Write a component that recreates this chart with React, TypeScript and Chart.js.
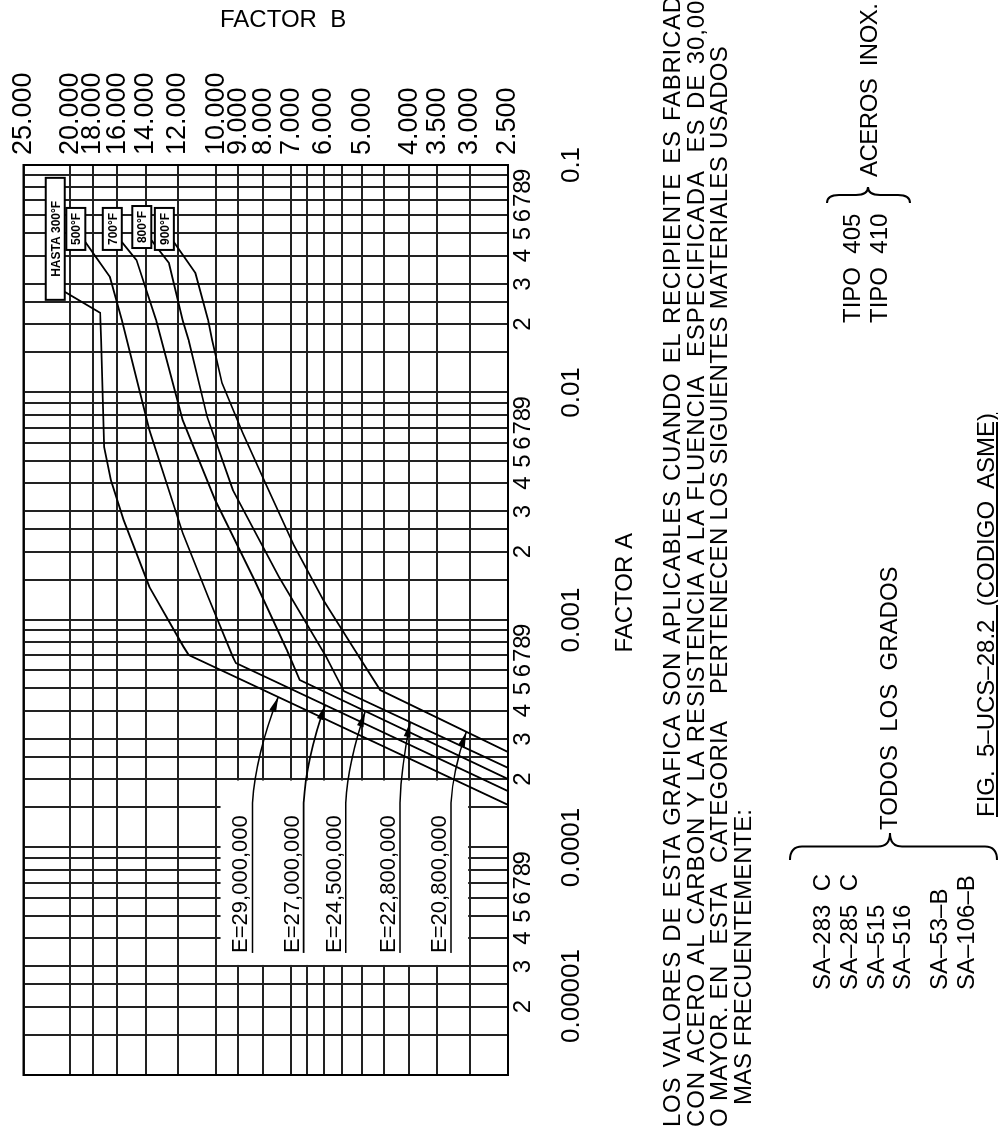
import React, { useEffect, useRef } from "react";
import { Chart, registerables } from "chart.js";

Chart.register(...registerables);

const FONT = '"Liberation Sans", Arial, sans-serif';

// ---------- Factor A (horizontal axis of the unrotated chart, log) ----------
const factorARange = [0.00001, 0.1];
const factorAGrid = [
  0.00001, 0.000015, 0.00002, 0.000025, 0.00003, 0.00004, 0.00005, 0.00006, 0.00007, 0.00008, 0.00009,
  0.0001, 0.00015, 0.0002, 0.00025, 0.0003, 0.0004, 0.0005, 0.0006, 0.0007, 0.0008, 0.0009,
  0.001, 0.0015, 0.002, 0.0025, 0.003, 0.004, 0.005, 0.006, 0.007, 0.008, 0.009,
  0.01, 0.015, 0.02, 0.025, 0.03, 0.04, 0.05, 0.06, 0.07, 0.08, 0.09,
  0.1,
];
const factorADigits = [
  "", "", "2", "", "3", "4", "5", "6", "7", "8", "9",
  "", "", "2", "", "3", "4", "5", "6", "7", "8", "9",
  "", "", "2", "", "3", "4", "5", "6", "7", "8", "9",
  "", "", "2", "", "3", "4", "5", "6", "7", "8", "9",
  "",
];
const factorADecades = [0.00001, 0.0001, 0.001, 0.01, 0.1];
const factorADecadeLabels = ["0.00001", "0.0001", "0.001", "0.01", "0.1"];

// ---------- Factor B (vertical axis of the unrotated chart, log) ----------
const factorBRange = [2500, 25000];
const factorBGrid = [2500, 3000, 3500, 4000, 4500, 5000, 5500, 6000, 6500, 7000, 8000, 9000, 10000, 12000, 14000, 16000, 18000, 20000, 25000];
const factorBLabels = ["2.500", "3.000", "3.500", "4.000", "", "5.000", "", "6.000", "", "7.000", "8.000", "9.000", "10.000", "12.000", "14.000", "16.000", "18.000", "20.000", "25.000"];

// ---------- Curves (Factor A, Factor B) ----------
const curve300A = [0.000154, 0.000702, 0.000761, 0.0014, 0.00275, 0.00412, 0.00576, 0.017, 0.0224, 0.0277];
const curve300B = [2500, 11400, 11680, 13750, 15530, 16500, 17050, 17290, 17370, 20550];
const curve500A = [0.000177, 0.000647, 0.000688, 0.00126, 0.00241, 0.00684, 0.0208, 0.0322, 0.0459];
const curve500B = [2500, 9115, 9245, 10390, 11730, 13750, 15670, 16575, 18635];
const curve700A = [0.0002, 0.000545, 0.000738, 0.0015, 0.00337, 0.00757, 0.0208, 0.0382, 0.0459];
const curve700B = [2500, 6730, 7150, 8343, 10055, 11730, 13305, 14610, 15670];
const curve800A = [0.000224, 0.000487, 0.000688, 0.001545, 0.00373, 0.0078, 0.017, 0.0208, 0.0371, 0.0468];
const curve800B = [2500, 5455, 5931, 7423, 9245, 10440, 11405, 11730, 12525, 13620];
const curve900A = [0.000263, 0.000492, 0.000738, 0.001225, 0.002136, 0.003922, 0.006637, 0.01101, 0.017, 0.0208, 0.0335, 0.0459];
const curve900B = [2500, 4588, 5180, 6013, 6920, 7888, 8820, 9733, 10198, 10392, 11040, 12235];
const temperatureLabels = ["HASTA 300°F", "500°F", "700°F", "800°F", "900°F"];

// ---------- Modulus call-outs ----------
const modulusLabels = ["E=29,000,000", "E=27,000,000", "E=24,500,000", "E=22,800,000", "E=20,800,000"];
const modulusTextA = [0.0000344, 0.0000344, 0.0000344, 0.0000344, 0.0000344];
const modulusLineB = [8420, 6603, 5405, 4178, 3277];
const modulusLeaderA = [0.000157, 0.000157, 0.000157, 0.000157, 0.000157];
const modulusTipA = [0.000459, 0.000423, 0.000394, 0.000356, 0.000322];
const modulusTipB = [7450, 5960, 4930, 3980, 3050];
const calloutPanelA = [0.00003, 0.0002];
const calloutPanelB = [3000, 9800];

const curvesA = [curve300A, curve500A, curve700A, curve800A, curve900A];
const curvesB = [curve300B, curve500B, curve700B, curve800B, curve900B];

const annotate = {
  id: "annotate",
  beforeDatasetsDraw(chart: any) {
    const { ctx, scales } = chart;
    const x = scales.x, y = scales.y;
    const x0 = x.getPixelForValue(calloutPanelA[0]);
    const x1 = x.getPixelForValue(calloutPanelA[1]);
    const y0 = y.getPixelForValue(calloutPanelB[1]);
    const y1 = y.getPixelForValue(calloutPanelB[0]);
    ctx.save();
    ctx.fillStyle = "#fff";
    ctx.fillRect(x0 + 1.5, y0, x1 - x0 - 3, y1 - y0 - 1.5);
    ctx.restore();
  },
  afterDatasetsDraw(chart: any) {
    const { ctx, scales, chartArea } = chart;
    const x = scales.x, y = scales.y;
    ctx.save();
    ctx.strokeStyle = "#000";
    ctx.lineWidth = 2;
    ctx.strokeRect(chartArea.left, chartArea.top, chartArea.right - chartArea.left, chartArea.bottom - chartArea.top);

    chart.data.datasets.forEach((ds: any, i: number) => {
      const meta = chart.getDatasetMeta(i);
      const pt = meta.data[meta.data.length - 1];
      const w = i === 0 ? 122 : 42;
      const h = 19;
      const bx = pt.x - 8, by = pt.y - h;
      ctx.fillStyle = "#fff";
      ctx.fillRect(bx, by, w, h);
      ctx.strokeStyle = "#000";
      ctx.lineWidth = 2;
      ctx.strokeRect(bx, by, w, h);
      ctx.fillStyle = "#000";
      ctx.font = `bold 12px ${FONT}`;
      ctx.textAlign = "center";
      ctx.textBaseline = "middle";
      ctx.fillText(temperatureLabels[i], bx + w / 2, by + h / 2 + 1);
    });

    ctx.font = `22px ${FONT}`;
    ctx.textAlign = "left";
    ctx.textBaseline = "alphabetic";
    modulusLabels.forEach((lab, i) => {
      const tx = x.getPixelForValue(modulusTextA[i]);
      const ly = y.getPixelForValue(modulusLineB[i]);
      const lx = x.getPixelForValue(modulusLeaderA[i]);
      const px = x.getPixelForValue(modulusTipA[i]);
      const py = y.getPixelForValue(modulusTipB[i]);
      ctx.fillStyle = "#000";
      ctx.fillText(lab, tx, ly - 5);
      ctx.strokeStyle = "#000";
      ctx.lineWidth = 1.6;
      const cx = lx + 0.45 * (px - lx);
      const cy = ly + 0.12 * (py - ly);
      ctx.beginPath();
      ctx.moveTo(tx, ly);
      ctx.lineTo(lx, ly);
      ctx.quadraticCurveTo(cx, cy, px, py);
      ctx.stroke();
      const ang = Math.atan2(py - cy, px - cx);
      const len = 15, half = 3.5;
      const c = Math.cos(ang), s = Math.sin(ang);
      ctx.beginPath();
      ctx.moveTo(px, py);
      ctx.lineTo(px - len * c + half * s, py - len * s - half * c);
      ctx.lineTo(px - len * c - half * s, py - len * s + half * c);
      ctx.closePath();
      ctx.fill();
    });

    ctx.font = `26px ${FONT}`;
    ctx.fillStyle = "#000";
    const base = chartArea.bottom + 71;
    factorADecades.forEach((d, i) => {
      const px = x.getPixelForValue(d);
      if (i === 0) {
        ctx.textAlign = "left";
        ctx.fillText(factorADecadeLabels[i], px + 32, base);
      } else {
        ctx.textAlign = "center";
        ctx.fillText(factorADecadeLabels[i], px, base);
      }
    });
    const refW = ctx.measureText(factorADecadeLabels[2]).width;
    const startX = x.getPixelForValue(factorADecades[2]) - refW / 2;
    ctx.font = `24px ${FONT}`;
    ctx.textAlign = "left";
    ctx.fillText("FACTOR A", startX, chartArea.bottom + 124);
    ctx.restore();
  },
};

const textStyle: React.CSSProperties = {
  position: "absolute",
  font: `24px ${FONT}`,
  lineHeight: "24px",
  whiteSpace: "pre",
  color: "#000",
};

function brace(u0: number, u1: number, vTop: number, vBot: number, vTip: number) {
  const m = (u0 + u1) / 2;
  return `M ${u0} ${vTop} Q ${m} ${vTop} ${m} ${vTop + 12} L ${m} ${vTip - 12} Q ${m} ${vTip} ${u1} ${vTip} Q ${m} ${vTip} ${m} ${vTip + 12} L ${m} ${vBot - 12} Q ${m} ${vBot} ${u0} ${vBot}`;
}

export default function App() {
  const ref = useRef<HTMLCanvasElement>(null);
  useEffect(() => {
    const canvas = ref.current;
    if (!canvas) return;
    const datasets = curvesA.map((arr, i) => ({
      label: temperatureLabels[i],
      data: arr.map((a, j) => ({ x: a, y: curvesB[i][j] })),
      borderColor: "#000",
      borderWidth: 1.8,
      pointRadius: 0,
      tension: 0,
      fill: false,
    }));
    const chart = new Chart(canvas, {
      type: "line",
      data: { datasets },
      options: {
        responsive: false,
        animation: false,
        events: [],
        layout: { padding: { left: 56, top: 15, right: 0, bottom: 430 } },
        plugins: { legend: { display: false }, tooltip: { enabled: false }, title: { display: false } },
        scales: {
          x: {
            type: "logarithmic",
            position: "bottom",
            bounds: "data",
            min: factorARange[0],
            max: factorARange[1],
            afterBuildTicks: (s: any) => {
              s.ticks = factorAGrid.map((v) => ({ value: v }));
            },
            afterFit: (s: any) => {
              s.height = 60;
            },
            grid: { color: "#222", lineWidth: 2, drawTicks: false },
            border: { display: false },
            ticks: {
              autoSkip: false,
              maxRotation: 0,
              minRotation: 0,
              color: "#000",
              padding: 3,
              font: { family: FONT, size: 24, lineHeight: 1 },
              callback: (_v: any, i: number) => factorADigits[i],
            },
          },
          y: {
            type: "logarithmic",
            position: "right",
            bounds: "data",
            min: factorBRange[0],
            max: factorBRange[1],
            afterBuildTicks: (s: any) => {
              s.ticks = factorBGrid.map((v) => ({ value: v }));
            },
            afterFit: (s: any) => {
              s.width = 165;
            },
            grid: { color: "#222", lineWidth: 2, drawTicks: false },
            border: { display: false },
            ticks: {
              autoSkip: false,
              color: "#000",
              padding: 10,
              font: { family: FONT, size: 27, lineHeight: 1 },
              callback: (_v: any, i: number) => factorBLabels[i],
            },
          },
        },
      } as any,
      plugins: [annotate],
    });
    return () => chart.destroy();
  }, []);

  return (
    <>
      <div
        style={{
          position: "fixed",
          left: 0,
          top: 0,
          width: 1131,
          height: 998,
          transformOrigin: "0 0",
          transform: "translateY(1131px) rotate(-90deg)",
          background: "#fff",
          overflow: "hidden",
        }}
      >
        <canvas ref={ref} width={1131} height={998} style={{ position: "absolute", left: 0, top: 0, width: 1131, height: 998 }} />
        <div style={{ ...textStyle, left: 4, top: 660, letterSpacing: "0.7px", wordSpacing: "2px" }}>LOS VALORES DE ESTA GRAFICA SON APLICABLES CUANDO EL RECIPIENTE ES FABRICADO</div>
        <div style={{ ...textStyle, left: 4, top: 684, letterSpacing: "0.9px", wordSpacing: "2px" }}>CON ACERO AL CARBON Y LA RESISTENCIA A LA FLUENCIA  ESPECIFICADA  ES DE 30,000</div>
        <div style={{ ...textStyle, left: 4, top: 707, letterSpacing: "0.3px" }}>O MAYOR. EN   ESTA   CATEGORIA    PERTENECEN LOS SIGUIENTES MATERIALES USADOS</div>
        <div style={{ ...textStyle, left: 26, top: 731 }}>MAS FRECUENTEMENTE:</div>

        <div style={{ ...textStyle, left: 141, top: 810 }}>SA–283  C</div>
        <div style={{ ...textStyle, left: 141, top: 837 }}>SA–285  C</div>
        <div style={{ ...textStyle, left: 141, top: 864 }}>SA–515</div>
        <div style={{ ...textStyle, left: 141, top: 890 }}>SA–516</div>
        <div style={{ ...textStyle, left: 141, top: 927 }}>SA–53–B</div>
        <div style={{ ...textStyle, left: 141, top: 954 }}>SA–106–B</div>
        <div style={{ ...textStyle, left: 301, top: 877 }}>TODOS  LOS  GRADOS</div>
        <div style={{ ...textStyle, left: 314, top: 974, textDecoration: "underline", textUnderlineOffset: "2px" }}>FIG.  5–UCS–28.2  (CODIGO  ASME)</div>

        <div style={{ ...textStyle, left: 808, top: 840 }}>TIPO  405</div>
        <div style={{ ...textStyle, left: 808, top: 867 }}>TIPO  410</div>
        <div style={{ ...textStyle, left: 954, top: 857, letterSpacing: "-0.5px" }}>ACEROS  INOX.</div>

        <svg width={1131} height={998} style={{ position: "absolute", left: 0, top: 0, pointerEvents: "none" }}>
          <path d={brace(271, 298, 790, 997, 890)} fill="none" stroke="#000" strokeWidth={2} />
          <path d={brace(928, 944, 827, 910, 868)} fill="none" stroke="#000" strokeWidth={2} />
        </svg>
      </div>
      <div style={{ position: "fixed", left: 220, top: 7, font: `24px ${FONT}`, lineHeight: "24px", whiteSpace: "pre", color: "#000" }}>
        FACTOR  B
      </div>
    </>
  );
}
